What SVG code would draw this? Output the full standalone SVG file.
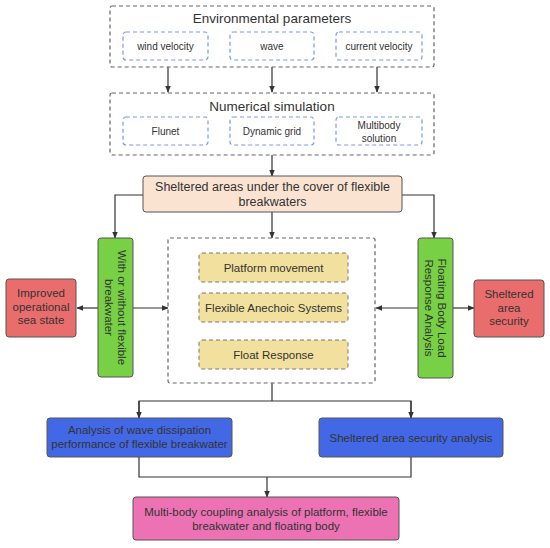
<svg xmlns="http://www.w3.org/2000/svg" width="550" height="548" viewBox="0 0 550 548">
<defs>
<marker id="ah" viewBox="0 0 10 10" refX="9" refY="5" markerWidth="7" markerHeight="7" orient="auto" markerUnits="userSpaceOnUse">
<path d="M0,1 L10,5 L0,9 Z" fill="#333"/>
</marker>
<style>
text{font-family:"Liberation Sans",Arial,sans-serif;fill:#333;text-anchor:middle}
.grp{fill:#fff;stroke:#666;stroke-width:1.2;stroke-dasharray:4 3}
.sub{fill:#fff;stroke:#7b95f2;stroke-width:1.2;stroke-dasharray:4 3}
.yel{fill:#f2e19e;stroke:#777;stroke-width:1;stroke-dasharray:4 3}
.peach{fill:#fbe3d2;stroke:#555;stroke-width:1}
.green{fill:#78d144;stroke:#555;stroke-width:1}
.red{fill:#ea6d6d;stroke:#555;stroke-width:1}
.blue{fill:#4368e6;stroke:#555;stroke-width:1}
.pink{fill:#ec72b4;stroke:#555;stroke-width:1}
.ln{fill:none;stroke:#333;stroke-width:1.2}
.t13{font-size:13.5px}
.t10{font-size:10px}
.t11{font-size:11.5px}
.t12{font-size:12.5px}
</style>
</defs>

<g id="connectors">
<line class="ln" x1="168" y1="67" x2="168" y2="92" marker-end="url(#ah)"/>
<line class="ln" x1="272" y1="67" x2="272" y2="92" marker-end="url(#ah)"/>
<line class="ln" x1="377" y1="67" x2="377" y2="92" marker-end="url(#ah)"/>
<line class="ln" x1="272" y1="155" x2="272" y2="176" marker-end="url(#ah)"/>
<polyline class="ln" points="143,195 115,195 115,238" marker-end="url(#ah)"/>
<polyline class="ln" points="402,195 434,195 434,238" marker-end="url(#ah)"/>
<line class="ln" x1="272" y1="212" x2="272" y2="238" marker-end="url(#ah)"/>
<line class="ln" x1="98" y1="308" x2="77" y2="308" marker-end="url(#ah)"/>
<line class="ln" x1="133" y1="308" x2="168" y2="308" marker-end="url(#ah)"/>
<line class="ln" x1="418" y1="308" x2="376" y2="308" marker-end="url(#ah)"/>
<line class="ln" x1="453" y1="308" x2="474" y2="308" marker-end="url(#ah)"/>
<polyline class="ln" points="272,383 272,401"/>
<polyline class="ln" points="139,418 139,401 411,401 411,418"/>
<line class="ln" x1="139" y1="401" x2="139" y2="418" marker-end="url(#ah)"/>
<line class="ln" x1="411" y1="401" x2="411" y2="418" marker-end="url(#ah)"/>
<polyline class="ln" points="139,457 139,477 411,477 411,457"/>
<line class="ln" x1="267" y1="477" x2="267" y2="497" marker-end="url(#ah)"/>
</g>

<g id="env">
<rect class="grp" x="110" y="6" width="324" height="61" rx="2"/>
<text class="t13" x="272" y="23">Environmental parameters</text>
</g>
<g id="wind"><rect class="sub" x="123" y="32" width="85" height="28" rx="3"/><text class="t10" x="165.5" y="49.5">wind velocity</text></g>
<g id="wave"><rect class="sub" x="230" y="32" width="84" height="28" rx="3"/><text class="t10" x="272" y="49.5">wave</text></g>
<g id="current"><rect class="sub" x="336" y="32" width="86" height="28" rx="3"/><text class="t10" x="379" y="49.5">current velocity</text></g>

<g id="numsim">
<rect class="grp" x="110" y="93" width="324" height="62" rx="2"/>
<text class="t13" x="272" y="111">Numerical simulation</text>
</g>
<g id="flunet"><rect class="sub" x="123" y="117" width="85" height="28" rx="3"/><text class="t10" x="165.5" y="134.5">Flunet</text></g>
<g id="grid"><rect class="sub" x="230" y="117" width="84" height="28" rx="3"/><text class="t10" x="272" y="134.5">Dynamic grid</text></g>
<g id="multibody"><rect class="sub" x="336" y="117" width="86" height="28" rx="3"/><text class="t10" x="379" y="129">Multibody</text><text class="t10" x="379" y="142">solution</text></g>

<g id="sheltered">
<rect class="peach" x="143" y="176" width="259" height="36" rx="3"/>
<text class="t12" x="272.5" y="191">Sheltered areas under the cover of flexible</text>
<text class="t12" x="272.5" y="206">breakwaters</text>
</g>

<g id="with">
<rect class="green" x="98" y="238" width="35" height="139" rx="3"/>
<g transform="translate(115.5,307.5) rotate(90)">
<text class="t11" x="0" y="-2.5">With or without flexible</text>
<text class="t11" x="0" y="10.5">breakwater</text>
</g>
</g>

<g id="improved">
<rect class="red" x="6" y="279" width="70" height="58" rx="3"/>
<text class="t11" x="41" y="297">Improved</text>
<text class="t11" x="41" y="310.5">operational</text>
<text class="t11" x="41" y="324">sea state</text>
</g>

<g id="center">
<rect class="grp" x="168" y="238" width="207" height="145" rx="2"/>
</g>
<g id="platform"><rect class="yel" x="199" y="253" width="149" height="29" rx="3"/><text class="t11" x="273.5" y="271.5">Platform movement</text></g>
<g id="anechoic"><rect class="yel" x="199" y="293" width="149" height="29" rx="3"/><text class="t11" x="273.5" y="311.5">Flexible Anechoic Systems</text></g>
<g id="float"><rect class="yel" x="199" y="340" width="149" height="29" rx="3"/><text class="t11" x="273.5" y="358.5">Float Response</text></g>

<g id="floating">
<rect class="green" x="418" y="238" width="35" height="140" rx="3"/>
<g transform="translate(435.5,308) rotate(90)">
<text class="t11" x="0" y="-2.5">Floating Body Load</text>
<text class="t11" x="0" y="10.5">Response Analysis</text>
</g>
</g>

<g id="security">
<rect class="red" x="474" y="280" width="70" height="57" rx="3"/>
<text class="t11" x="509" y="298">Sheltered</text>
<text class="t11" x="509" y="311.5">area</text>
<text class="t11" x="509" y="325">security</text>
</g>

<g id="dissipation">
<rect class="blue" x="47" y="418" width="185" height="39" rx="3"/>
<text class="t11" x="139.5" y="434">Analysis of wave dissipation</text>
<text class="t11" x="139.5" y="447.5">performance of flexible breakwater</text>
</g>

<g id="secanalysis">
<rect class="blue" x="319" y="418" width="184" height="39" rx="3"/>
<text class="t11" x="411" y="442">Sheltered area security analysis</text>
</g>

<g id="multi">
<rect class="pink" x="133" y="497" width="266" height="43" rx="3"/>
<text class="t11" x="266" y="516">Multi-body coupling analysis of platform, flexible</text>
<text class="t11" x="266" y="529.5">breakwater and floating body</text>
</g>
</svg>
